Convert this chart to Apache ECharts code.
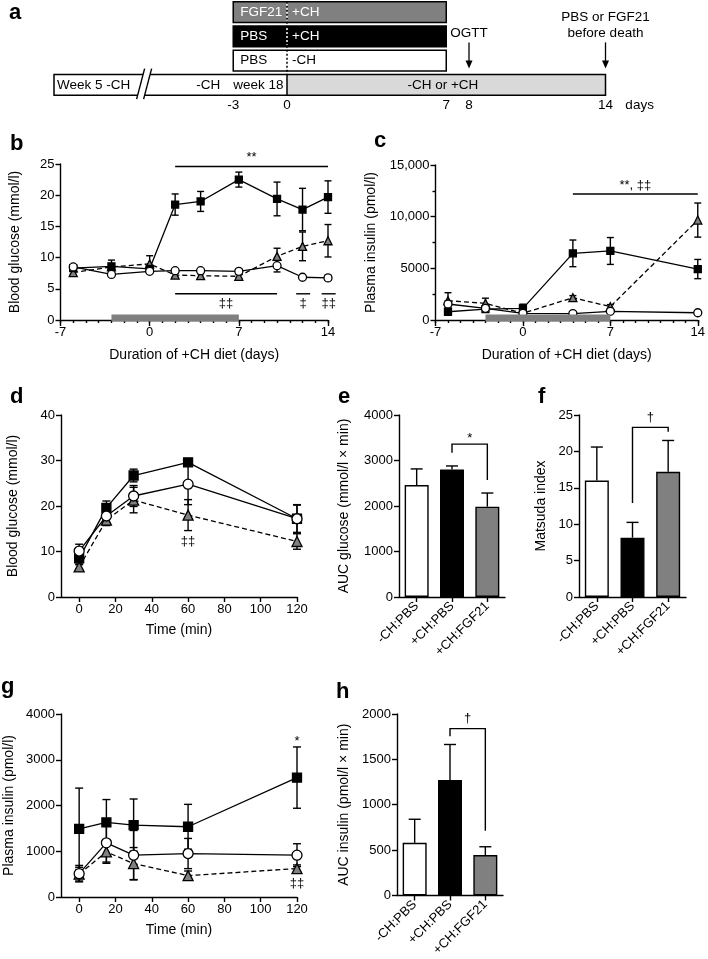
<!DOCTYPE html>
<html>
<head>
<meta charset="utf-8">
<title>FGF21 and +CH diet</title>
<script src="https://cdn.jsdelivr.net/npm/echarts@6.0.0/dist/echarts.min.js"></script>
<style>
  html, body { margin: 0; padding: 0; background: #fff; }
  #chart { width: 708px; height: 959px; }
</style>
</head>
<body>
<div id="chart"></div>
<script>
// ---------- data ----------
// a: study design (days relative to the start of the +CH diet)
const aBoxLeftText = ['FGF21', 'PBS', 'PBS'];
const aBoxRightText = ['+CH', '+CH', '-CH'];
const aBoxSpan = [-3, 7];
const aTimelineSpan = [-13, 14];
const aTickDays = [-3, 0, 7, 8, 14];
const aEventDays = [8, 14];
const aEventText = [['OGTT'], ['PBS or FGF21', 'before death']];

// b: blood glucose (mmol/l)
const bDays = [-6, -3, 0, 2, 4, 7, 10, 12, 14];
const bMinusPbs = [8.5, 7.3, 7.8, 7.9, 7.9, 7.8, 8.7, 6.85, 6.75];
const bMinusPbsSem = [0.3, 0.3, 0.3, 0.3, 0.3, 0.4, 1.0, 0.2, 0.4];
const bPlusPbs = [8.3, 8.6, 8.2, 18.5, 19.0, 22.5, 19.4, 17.7, 19.7];
const bPlusPbsSem = [0.3, 1.0, 0.4, 1.7, 1.6, 1.2, 2.7, 3.4, 2.6];
const bPlusFgf = [7.6, 8.5, 9.0, 7.2, 7.1, 7.0, 10.2, 11.8, 12.7];
const bPlusFgfSem = [0.3, 0.5, 1.3, 0.3, 0.3, 0.3, 1.3, 2.3, 2.6];
const bSigLines = [[2, 14, 24.6], [2, 10, 4.2], [11.5, 12.6, 4.2], [13.5, 14.6, 4.2]];
const bSigText = ['**', '‡‡', '‡', '‡‡'];

// c: plasma insulin (pmol/l)
const cDays = [-6, -3, 0, 4, 7, 14];
const cMinusPbs = [1550, 1130, 650, 620, 840, 700];
const cMinusPbsSem = [300, 200, 100, 100, 100, 100];
const cPlusPbs = [800, 1050, 1130, 6450, 6680, 4930];
const cPlusPbsSem = [150, 150, 400, 1290, 1300, 930];
const cPlusFgf = [1870, 1610, 650, 2160, 1290, 9670];
const cPlusFgfSem = [770, 500, 150, 200, 200, 1650];
const cSigLines = [[4, 14, 12190]];
const cSigText = ['**, ‡‡'];

const injectionDays = [-3, 7];

// d / g: OGTT
const ogttTimes = [0, 15, 30, 60, 120];
const timeTicks = [0, 20, 40, 60, 80, 100, 120];
const dMinusPbs = [10.1, 17.8, 22.2, 24.8, 17.2];
const dMinusPbsSem = [1.5, 1.5, 2.3, 4.5, 3.1];
const dPlusPbs = [8.5, 19.6, 26.7, 29.6, 17.2];
const dPlusPbsSem = [1.0, 1.5, 1.4, 0.5, 3.0];
const dPlusFgf = [6.6, 16.9, 21.3, 18.0, 12.2];
const dPlusFgfSem = [0.5, 1.2, 2.8, 3.4, 1.7];

const gMinusPbs = [510, 1184, 914, 950, 914];
const gMinusPbsSem = [180, 420, 540, 330, 250];
const gPlusPbs = [1490, 1630, 1572, 1535, 2610];
const gPlusPbsSem = [890, 500, 570, 490, 670];
const gPlusFgf = [500, 987, 731, 468, 621];
const gPlusFgfSem = [150, 250, 350, 100, 80];

// e, f, h: group summaries
const groups = ['-CH:PBS', '+CH:PBS', '+CH:FGF21'];
const eAucGlucose = [2460, 2800, 1985];
const eAucGlucoseSem = [355, 80, 300];
const fMatsuda = [16.0, 8.15, 17.2];
const fMatsudaSem = [4.6, 2.1, 4.3];
const hAucInsulin = [580, 1272, 446];
const hAucInsulinSem = [260, 392, 91];
// brackets: [group1, group2, top, leg1 end, leg2 end]
const eBracket = [1, 2, 3360, 3170, 2570];
const fBracket = [1, 2, 23.3, 12.9, 22.7];
const hBracket = [1, 2, 1839, 1755, 713];

// ---------- styles ----------
const FONT = "'Liberation Sans', Arial, Helvetica, sans-serif";
const A_FONT = "13.5px 'Liberation Sans', Arial, sans-serif";
const GRAY = '#808080';
const LIGHT = '#d9d9d9';
const LINE = { color: '#000', width: 1.4 };
const LBL = { color: '#000', fontSize: 13, fontFamily: FONT, margin: 6, formatter: v => String(v) };
const NAME = { color: '#000', fontSize: 14, fontFamily: FONT };
const BOX_FILL = [GRAY, '#000', '#fff'];
const BOX_INK = ['#fff', '#fff', '#000'];
const BAR_FILL = ['#fff', '#000', GRAY];

const chart = echarts.init(document.getElementById('chart'));

// ---------- panel a ----------
const aLeftPieces = aBoxLeftText.map((t, i) => ({
  x0: aBoxSpan[0], x1: 0, row: i, fill: BOX_FILL[i], ink: BOX_INK[i], open: 'right',
  texts: [{ s: t, pad: 7 }]
}));
aLeftPieces.push({
  x0: aTimelineSpan[0], x1: 0, row: 3, fill: '#fff', ink: '#000', open: 'right', breakAt: -8,
  texts: [{ s: 'Week 5 -CH', pad: 3 }, { s: '-CH', at: -4.4 }, { s: 'week 18', at: -1.6 }]
});
const aRightPieces = aBoxRightText.map((t, i) => ({
  x0: 0, x1: aBoxSpan[1], row: i, fill: BOX_FILL[i], ink: BOX_INK[i], open: 'left',
  texts: [{ s: t, pad: 5 }]
}));
aRightPieces.push({
  x0: 0, x1: aTimelineSpan[1], row: 3, fill: LIGHT, ink: '#000', open: 'none',
  texts: [{ s: '-CH or +CH', at: 6.85 }]
});

function pieceRender(pieces) {
  return (params, api) => {
    const p = pieces[params.dataIndex];
    const c0 = api.coord([p.x0, p.row]);
    const c1 = api.coord([p.x1, p.row]);
    const h = api.size([0, 1])[1] * 0.85;
    const x0 = c0[0], x1 = c1[0], y0 = c0[1] - h / 2, y1 = c0[1] + h / 2;
    let pts;
    if (p.open === 'right') pts = [[x1, y0], [x0, y0], [x0, y1], [x1, y1]];
    else if (p.open === 'left') pts = [[x0, y0], [x1, y0], [x1, y1], [x0, y1]];
    else pts = [[x0, y0], [x1, y0], [x1, y1], [x0, y1], [x0, y0]];
    const kids = [
      { type: 'rect', shape: { x: x0, y: y0, width: x1 - x0, height: h }, style: { fill: p.fill } },
      { type: 'polyline', shape: { points: pts }, style: { stroke: '#000', lineWidth: 1.5, fill: null } }
    ];
    if (p.breakAt !== undefined) {
      const bx = api.coord([p.breakAt, p.row])[0];
      kids.push({ type: 'polygon', shape: { points: [[bx - 7, y1 + 4], [bx + 1, y0 - 6], [bx + 8, y0 - 6], [bx, y1 + 4]] }, style: { fill: '#fff' } });
      kids.push({ type: 'line', shape: { x1: bx - 7, y1: y1 + 4, x2: bx + 1, y2: y0 - 6 }, style: { stroke: '#000', lineWidth: 1.4 } });
      kids.push({ type: 'line', shape: { x1: bx, y1: y1 + 4, x2: bx + 8, y2: y0 - 6 }, style: { stroke: '#000', lineWidth: 1.4 } });
    }
    p.texts.forEach(t => {
      const centred = t.at !== undefined;
      const tx = centred ? api.coord([t.at, p.row])[0] : x0 + t.pad;
      kids.push({ type: 'text', x: tx, y: c0[1], style: { text: t.s, fill: p.ink, font: A_FONT, align: centred ? 'center' : 'left', verticalAlign: 'middle' } });
    });
    return { type: 'group', children: kids };
  };
}

const aDivider = {
  type: 'custom', xAxisIndex: 1, yAxisIndex: 1, z: 3, silent: true,
  data: [[0]],
  renderItem: (params, api) => {
    const h = api.size([0, 1])[1] * 0.85;
    const top = api.coord([0, 0]);
    const bottom = api.coord([0, 3]);
    const kids = [{ type: 'line', shape: { x1: top[0], y1: top[1] - h / 2, x2: top[0], y2: bottom[1] - h / 2 }, style: { stroke: '#000', lineWidth: 1.5, lineDash: [2, 2] } }];
    BOX_INK.forEach((ink, row) => {
      if (ink === '#000') return;
      const c = api.coord([0, row]);
      kids.push({ type: 'line', shape: { x1: c[0], y1: c[1] - h / 2 + 2, x2: c[0], y2: c[1] + h / 2 - 2 }, style: { stroke: ink, lineWidth: 1.5, lineDash: [2, 2] } });
    });
    return { type: 'group', children: kids };
  }
};

const aArrows = {
  type: 'custom', xAxisIndex: 1, yAxisIndex: 1, z: 3, silent: true,
  data: aEventDays.map((d, i) => [d, i]),
  renderItem: (params, api) => {
    const h = api.size([0, 1])[1] * 0.85;
    const x = api.coord([api.value(0), 1])[0];
    const yStart = api.coord([0, 1])[1] + 6;
    const yTip = api.coord([0, 3])[1] - h / 2 - 6;
    const lines = aEventText[params.dataIndex];
    const kids = [
      { type: 'line', shape: { x1: x, y1: yStart, x2: x, y2: yTip - 7 }, style: { stroke: '#000', lineWidth: 1.3 } },
      { type: 'polygon', shape: { points: [[x - 3.5, yTip - 8], [x + 3.5, yTip - 8], [x, yTip]] }, style: { fill: '#000' } }
    ];
    lines.forEach((s, k) => {
      const y = yStart - 9 - (lines.length - 1 - k) * 16.5;
      kids.push({ type: 'text', x: x, y: y, style: { text: s, fill: '#000', font: A_FONT, align: 'center', verticalAlign: 'middle' } });
    });
    return { type: 'group', children: kids };
  }
};

// ---------- helpers ----------
const KIND = {
  minus: { symbol: 'circle', fill: '#fff', dash: false },
  plus: { symbol: 'rect', fill: '#000', dash: false },
  fgf: { symbol: 'triangle', fill: GRAY, dash: true }
};

function errorBars(xi, yi, xs, ms, ss, cap, upOnly) {
  return {
    type: 'custom', xAxisIndex: xi, yAxisIndex: yi, z: upOnly ? 4 : 1, silent: true,
    data: xs.map((x, i) => [x, ms[i], ss[i]]),
    renderItem: (params, api) => {
      const x = api.value(0), m = api.value(1), s = api.value(2);
      const hi = api.coord([x, m + s]);
      const lo = api.coord([x, upOnly ? m : Math.max(0, m - s)]);
      const st = { stroke: '#000', lineWidth: 1.4 };
      const kids = [
        { type: 'line', shape: { x1: hi[0], y1: hi[1], x2: lo[0], y2: lo[1] }, style: st },
        { type: 'line', shape: { x1: hi[0] - cap, y1: hi[1], x2: hi[0] + cap, y2: hi[1] }, style: st }
      ];
      if (!upOnly) kids.push({ type: 'line', shape: { x1: lo[0] - cap, y1: lo[1], x2: lo[0] + cap, y2: lo[1] }, style: st });
      return { type: 'group', children: kids };
    }
  };
}

function meanLine(xi, yi, xs, ms, kind, size) {
  const k = KIND[kind];
  return {
    type: 'line', xAxisIndex: xi, yAxisIndex: yi, z: 3, silent: true,
    data: xs.map((x, i) => [x, ms[i]]),
    symbol: k.symbol, symbolSize: k.symbol === 'rect' ? size - 1 : size, showSymbol: true,
    lineStyle: { color: '#000', width: 1.3, type: k.dash ? [5, 3] : 'solid' },
    itemStyle: { color: k.fill, borderColor: '#000', borderWidth: 1.3 }
  };
}

function timePanel(xi, yi, xs, sets, size, cap) {
  const out = [];
  sets.forEach(s => out.push(errorBars(xi, yi, xs, s.m, s.s, cap, false)));
  sets.forEach(s => out.push(meanLine(xi, yi, xs, s.m, s.kind, size)));
  return out;
}

function sigLines(xi, yi, lines, texts, yMax) {
  return {
    type: 'custom', xAxisIndex: xi, yAxisIndex: yi, z: 4, silent: true,
    data: lines.map((l, i) => [l[0], l[1], l[2], i]),
    renderItem: (params, api) => {
      const a = api.coord([api.value(0), api.value(2)]);
      const b = api.coord([api.value(1), api.value(2)]);
      const above = api.value(2) > yMax / 2;
      return { type: 'group', children: [
        { type: 'line', shape: { x1: a[0], y1: a[1], x2: b[0], y2: b[1] }, style: { stroke: '#000', lineWidth: 1.4 } },
        { type: 'text', x: (a[0] + b[0]) / 2, y: a[1] + (above ? -9 : 10), style: { text: texts[params.dataIndex], fill: '#000', font: '13px ' + FONT, align: 'center', verticalAlign: 'middle' } }
      ] };
    }
  };
}

function notes(xi, yi, items) {
  return {
    type: 'custom', xAxisIndex: xi, yAxisIndex: yi, z: 4, silent: true,
    data: items.map(n => [n.x, n.anchor, n.side]),
    renderItem: (params, api) => {
      const c = api.coord([api.value(0), api.value(1)]);
      const side = api.value(2);
      return { type: 'text', x: c[0], y: c[1] + (side > 0 ? -6 : 11), style: { text: items[params.dataIndex].text, fill: '#000', font: '13px ' + FONT, align: 'center', verticalAlign: 'middle' } };
    }
  };
}

function bracket(xi, yi, br, text) {
  return {
    type: 'custom', xAxisIndex: xi, yAxisIndex: yi, z: 4, silent: true,
    data: [br],
    renderItem: (params, api) => {
      const t1 = api.coord([api.value(0), api.value(2)]);
      const t2 = api.coord([api.value(1), api.value(2)]);
      const b1 = api.coord([api.value(0), api.value(3)]);
      const b2 = api.coord([api.value(1), api.value(4)]);
      return { type: 'group', children: [
        { type: 'polyline', shape: { points: [b1, t1, t2, b2] }, style: { stroke: '#000', lineWidth: 1.4, fill: null } },
        { type: 'text', x: (t1[0] + t2[0]) / 2, y: t1[1] - (text === '*' ? 6 : 10), style: { text: text, fill: '#000', font: '13px ' + FONT, align: 'center', verticalAlign: 'middle' } }
      ] };
    }
  };
}

function injectionBand(xi, yi) {
  return {
    type: 'custom', xAxisIndex: xi, yAxisIndex: yi, z: 5, silent: true,
    data: [injectionDays],
    renderItem: (params, api) => {
      const a = api.coord([api.value(0), 0]);
      const b = api.coord([api.value(1), 0]);
      return { type: 'rect', shape: { x: a[0], y: a[1] - 5.5, width: b[0] - a[0], height: 7 }, style: { fill: GRAY } };
    }
  };
}

function groupBars(xi, yi, vals) {
  return {
    type: 'bar', xAxisIndex: xi, yAxisIndex: yi, barWidth: 24, z: 2, silent: true,
    data: vals.map((v, i) => ({ value: v, itemStyle: { color: BAR_FILL[i] } })),
    itemStyle: { borderColor: '#000', borderWidth: 1.4 }
  };
}

// axes
function yVal(grid, max, interval, name, gap, extra) {
  return Object.assign({
    gridIndex: grid, type: 'value', min: 0, max: max, interval: interval,
    axisLine: { show: true, onZero: false, lineStyle: LINE },
    axisTick: { show: true, length: 5, lineStyle: LINE },
    axisLabel: LBL, splitLine: { show: false },
    name: name, nameLocation: 'middle', nameGap: gap, nameTextStyle: NAME
  }, extra || {});
}
function xDays(grid, major) {
  const base = { gridIndex: grid, type: 'value', min: -7, max: 14, position: 'bottom', splitLine: { show: false } };
  if (!major) return Object.assign(base, {
    interval: 1, axisLine: { show: true, onZero: false, lineStyle: LINE },
    axisTick: { show: true, length: 3, lineStyle: LINE }, axisLabel: { show: false }
  });
  return Object.assign(base, {
    interval: 7, axisLine: { show: false, onZero: false },
    axisTick: { show: true, length: 6, lineStyle: LINE }, axisLabel: LBL,
    name: 'Duration of +CH diet (days)', nameLocation: 'middle', nameGap: 28, nameTextStyle: NAME
  });
}
function xTime(grid) {
  return {
    gridIndex: grid, type: 'value', min: -10, max: 120,
    axisLine: { show: true, onZero: false, lineStyle: LINE },
    axisTick: { show: true, length: 5, lineStyle: LINE, customValues: timeTicks },
    axisLabel: Object.assign({}, LBL, { customValues: timeTicks }),
    splitLine: { show: false },
    name: 'Time (min)', nameLocation: 'middle', nameGap: 26, nameTextStyle: NAME
  };
}
function xGroups(grid) {
  return {
    gridIndex: grid, type: 'category', data: groups,
    axisLine: { show: true, onZero: false, lineStyle: LINE },
    axisTick: { show: true, alignWithLabel: true, length: 5, lineStyle: LINE },
    axisLabel: { color: '#000', fontSize: 13, fontFamily: FONT, rotate: 45, interval: 0, margin: 7 }
  };
}
const aRowAxis = g => ({ gridIndex: g, type: 'category', data: ['r0', 'r1', 'r2', 'r3'], inverse: true, show: false });
const aLabel = Object.assign({}, LBL, { fontSize: 13.5, margin: 1 });

const letter = (t, left, top) => ({ text: t, left: left, top: top, padding: 0, textStyle: { fontSize: 22, fontWeight: 'bold', fontFamily: FONT, color: '#000' } });

const option = {
  animation: false,
  backgroundColor: '#fff',
  title: [
    letter('a', 9, 2), letter('b', 10, 133), letter('c', 374, 130),
    letter('d', 10, 386), letter('e', 338, 386), letter('f', 538, 386),
    letter('g', 1, 676), letter('h', 336, 681)
  ],
  grid: [
    { left: 54, top: -1, width: 233, height: 98 },
    { left: 287, top: -1, width: 364, height: 98 },
    { left: 60.5, top: 164, width: 267.5, height: 156 },
    { left: 435.5, top: 165, width: 264.5, height: 155 },
    { left: 61, top: 415, width: 236, height: 182 },
    { left: 399, top: 415, width: 106, height: 182 },
    { left: 579, top: 415, width: 107, height: 182 },
    { left: 61, top: 714, width: 236, height: 183 },
    { left: 397, top: 714, width: 106, height: 183 }
  ],
  xAxis: [
    { gridIndex: 0, type: 'value', min: aTimelineSpan[0], max: 0, interval: 1, axisLine: { show: false }, axisTick: { show: false }, splitLine: { show: false },
      axisLabel: Object.assign({}, aLabel, { formatter: v => (v < 0 && aTickDays.includes(v)) ? String(v) : '' }) },
    { gridIndex: 1, type: 'value', min: 0, max: 16, interval: 0.5, axisLine: { show: false }, axisTick: { show: false }, splitLine: { show: false },
      axisLabel: Object.assign({}, aLabel, { formatter: v => (v >= 0 && aTickDays.includes(v)) ? String(v) : (v === 15.5 ? 'days' : '') }) },
    xDays(2, false), xDays(2, true),
    xDays(3, false), xDays(3, true),
    xTime(4), xGroups(5), xGroups(6), xTime(7), xGroups(8)
  ],
  yAxis: [
    aRowAxis(0), aRowAxis(1),
    yVal(2, 25, 5, 'Blood glucose (mmol/l)', 38),
    yVal(3, 15000, 5000, 'Plasma insulin (pmol/l)', 57, {
      minorTick: { show: true, splitNumber: 2, length: 3, lineStyle: LINE },
      axisLabel: Object.assign({}, LBL, { formatter: v => v >= 10000 ? v.toLocaleString('en-US') : String(v) })
    }),
    yVal(4, 40, 10, 'Blood glucose (mmol/l)', 41),
    yVal(5, 4000, 1000, 'AUC glucose (mmol/l \u00d7 min)', 48),
    yVal(6, 25, 5, 'Matsuda index', 31),
    yVal(7, 4000, 1000, 'Plasma insulin (pmol/l)', 45),
    yVal(8, 2000, 500, 'AUC insulin (pmol/l \u00d7 min)', 46)
  ],
  series: [
    { type: 'custom', xAxisIndex: 0, yAxisIndex: 0, z: 1, silent: true, data: aLeftPieces.map(p => [p.x0, p.x1, p.row]), renderItem: pieceRender(aLeftPieces) },
    { type: 'custom', xAxisIndex: 1, yAxisIndex: 1, z: 1, silent: true, data: aRightPieces.map(p => [p.x0, p.x1, p.row]), renderItem: pieceRender(aRightPieces) },
    aDivider, aArrows,

    ...timePanel(2, 2, bDays, [
      { m: bPlusFgf, s: bPlusFgfSem, kind: 'fgf' },
      { m: bPlusPbs, s: bPlusPbsSem, kind: 'plus' },
      { m: bMinusPbs, s: bMinusPbsSem, kind: 'minus' }
    ], 8, 3.5),
    sigLines(2, 2, bSigLines, bSigText, 25),
    injectionBand(2, 2),

    ...timePanel(4, 3, cDays, [
      { m: cPlusFgf, s: cPlusFgfSem, kind: 'fgf' },
      { m: cPlusPbs, s: cPlusPbsSem, kind: 'plus' },
      { m: cMinusPbs, s: cMinusPbsSem, kind: 'minus' }
    ], 8, 3.5),
    sigLines(4, 3, cSigLines, cSigText, 15000),
    injectionBand(4, 3),

    ...timePanel(6, 4, ogttTimes, [
      { m: dPlusFgf, s: dPlusFgfSem, kind: 'fgf' },
      { m: dPlusPbs, s: dPlusPbsSem, kind: 'plus' },
      { m: dMinusPbs, s: dMinusPbsSem, kind: 'minus' }
    ], 10, 4),
    notes(6, 4, [{ x: 60, anchor: dPlusFgf[3] - dPlusFgfSem[3], side: -1, text: '‡‡' }]),

    groupBars(7, 5, eAucGlucose), errorBars(7, 5, [0, 1, 2], eAucGlucose, eAucGlucoseSem, 6, true),
    bracket(7, 5, eBracket, '*'),
    groupBars(8, 6, fMatsuda), errorBars(8, 6, [0, 1, 2], fMatsuda, fMatsudaSem, 6, true),
    bracket(8, 6, fBracket, '\u2020'),

    ...timePanel(9, 7, ogttTimes, [
      { m: gPlusFgf, s: gPlusFgfSem, kind: 'fgf' },
      { m: gPlusPbs, s: gPlusPbsSem, kind: 'plus' },
      { m: gMinusPbs, s: gMinusPbsSem, kind: 'minus' }
    ], 10, 4),
    notes(9, 7, [
      { x: 120, anchor: gPlusPbs[4] + gPlusPbsSem[4], side: 1, text: '*' },
      { x: 120, anchor: gPlusFgf[4] - gPlusFgfSem[4], side: -1, text: '‡‡' }
    ]),

    groupBars(10, 8, hAucInsulin), errorBars(10, 8, [0, 1, 2], hAucInsulin, hAucInsulinSem, 6, true),
    bracket(10, 8, hBracket, '\u2020')
  ]
};

chart.setOption(option);
</script>
</body>
</html>
